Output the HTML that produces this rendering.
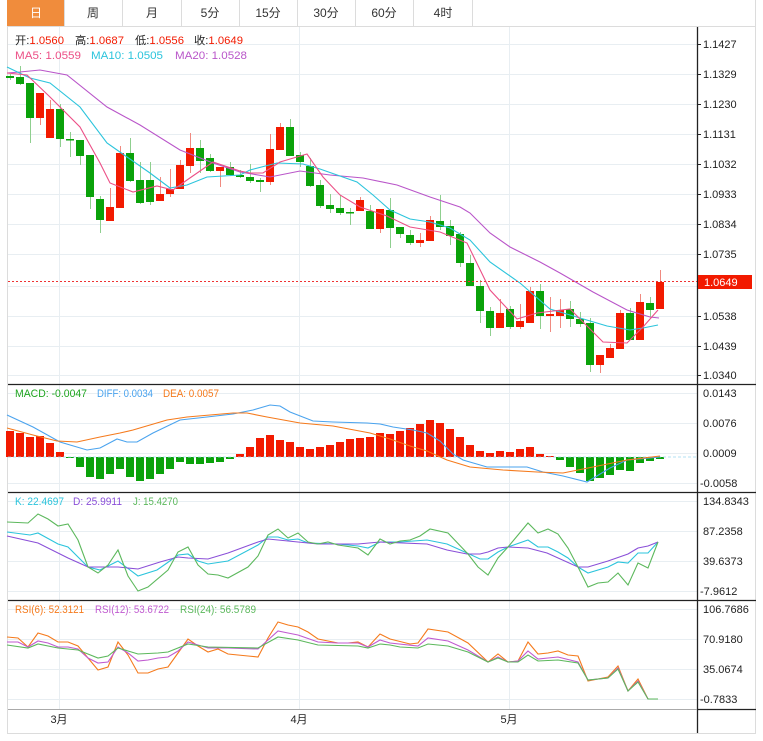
<!DOCTYPE html>
<html><head><meta charset="utf-8"><style>
html,body{margin:0;padding:0;background:#fff;width:763px;height:741px;overflow:hidden}
svg{display:block;font-family:"Liberation Sans","Noto Sans CJK SC",sans-serif}
g rect{width:8px}
</style></head><body>
<svg width="763" height="741" viewBox="0 0 763 741" xmlns="http://www.w3.org/2000/svg">
<rect x="7" y="0" width="57" height="26" fill="#f08c3c"/>
<g stroke="#dcdcdc" stroke-width="1" fill="none">
<line x1="64.5" y1="0" x2="64.5" y2="26"/><line x1="122.5" y1="0" x2="122.5" y2="26"/><line x1="181.5" y1="0" x2="181.5" y2="26"/><line x1="239.5" y1="0" x2="239.5" y2="26"/><line x1="297.5" y1="0" x2="297.5" y2="26"/><line x1="355.5" y1="0" x2="355.5" y2="26"/><line x1="413.5" y1="0" x2="413.5" y2="26"/><line x1="472.5" y1="0" x2="472.5" y2="26"/>
<line x1="7" y1="26.5" x2="756" y2="26.5"/>
<line x1="7.5" y1="26" x2="7.5" y2="734"/><line x1="755.5" y1="0" x2="755.5" y2="734"/><line x1="7" y1="733.5" x2="756" y2="733.5"/>
</g>
<g font-size="12" text-anchor="middle" fill="#333">
<text x="36" y="17" fill="#fff">日</text><text x="93" y="17">周</text><text x="152" y="17">月</text><text x="210" y="17">5分</text><text x="268" y="17">15分</text><text x="326" y="17">30分</text><text x="384" y="17">60分</text><text x="443" y="17">4时</text>
</g>
<g stroke="#e8eef2" stroke-width="1">
<line x1="8" y1="44.5" x2="697" y2="44.5"/><line x1="8" y1="74.5" x2="697" y2="74.5"/><line x1="8" y1="104.5" x2="697" y2="104.5"/><line x1="8" y1="134.5" x2="697" y2="134.5"/><line x1="8" y1="164.5" x2="697" y2="164.5"/><line x1="8" y1="194.5" x2="697" y2="194.5"/><line x1="8" y1="224.5" x2="697" y2="224.5"/><line x1="8" y1="254.5" x2="697" y2="254.5"/><line x1="8" y1="286.5" x2="697" y2="286.5"/><line x1="8" y1="316.5" x2="697" y2="316.5"/><line x1="8" y1="346.5" x2="697" y2="346.5"/><line x1="8" y1="375.5" x2="697" y2="375.5"/>
<line x1="8" y1="393.5" x2="697" y2="393.5"/><line x1="8" y1="423.5" x2="697" y2="423.5"/><line x1="8" y1="453.5" x2="697" y2="453.5"/><line x1="8" y1="483.5" x2="697" y2="483.5"/>
<line x1="8" y1="501.5" x2="697" y2="501.5"/><line x1="8" y1="531.5" x2="697" y2="531.5"/><line x1="8" y1="561.5" x2="697" y2="561.5"/><line x1="8" y1="591.5" x2="697" y2="591.5"/>
<line x1="8" y1="609.5" x2="697" y2="609.5"/><line x1="8" y1="639.5" x2="697" y2="639.5"/><line x1="8" y1="669.5" x2="697" y2="669.5"/><line x1="8" y1="699.5" x2="697" y2="699.5"/>
<line x1="59.5" y1="27" x2="59.5" y2="709"/><line x1="299.5" y1="27" x2="299.5" y2="709"/><line x1="509.5" y1="27" x2="509.5" y2="709"/>
</g>
<g stroke="#222" stroke-width="1.3">
<line x1="8" y1="384.5" x2="756" y2="384.5"/><line x1="8" y1="492.5" x2="756" y2="492.5"/><line x1="8" y1="600.5" x2="756" y2="600.5"/>
<line x1="697.5" y1="27" x2="697.5" y2="733"/><line x1="697" y1="709.5" x2="756" y2="709.5"/>
</g>
<line x1="8" y1="709.5" x2="697" y2="709.5" stroke="#aaa"/>
<g id="cd">
<g stroke="#8fcf8f"><line x1="10.5" y1="74" x2="10.5" y2="80"/><line x1="20.5" y1="66" x2="20.5" y2="85"/><line x1="30.5" y1="83" x2="30.5" y2="143"/><line x1="60.5" y1="104" x2="60.5" y2="147"/><line x1="70.5" y1="132" x2="70.5" y2="157"/><line x1="80.5" y1="140" x2="80.5" y2="165"/><line x1="90.5" y1="155" x2="90.5" y2="209"/><line x1="100.5" y1="196" x2="100.5" y2="233"/><line x1="130.5" y1="138" x2="130.5" y2="182"/><line x1="140.5" y1="162" x2="140.5" y2="204"/><line x1="150.5" y1="162" x2="150.5" y2="205"/><line x1="200.5" y1="140" x2="200.5" y2="173"/><line x1="210.5" y1="154" x2="210.5" y2="172"/><line x1="230.5" y1="162" x2="230.5" y2="176"/><line x1="240.5" y1="170" x2="240.5" y2="178"/><line x1="250.5" y1="164" x2="250.5" y2="183"/><line x1="260.5" y1="178" x2="260.5" y2="192"/><line x1="290.5" y1="119" x2="290.5" y2="156"/><line x1="300.5" y1="152" x2="300.5" y2="167"/><line x1="310.5" y1="158" x2="310.5" y2="187"/><line x1="320.5" y1="180" x2="320.5" y2="208"/><line x1="330.5" y1="194" x2="330.5" y2="213"/><line x1="340.5" y1="195" x2="340.5" y2="215"/><line x1="350.5" y1="208" x2="350.5" y2="225"/><line x1="370.5" y1="205" x2="370.5" y2="229"/><line x1="390.5" y1="198" x2="390.5" y2="248"/><line x1="400.5" y1="227" x2="400.5" y2="238"/><line x1="410.5" y1="230" x2="410.5" y2="245"/><line x1="440.5" y1="195" x2="440.5" y2="230"/><line x1="450.5" y1="220" x2="450.5" y2="245"/><line x1="460.5" y1="232" x2="460.5" y2="267"/><line x1="470.5" y1="255" x2="470.5" y2="286"/><line x1="480.5" y1="280" x2="480.5" y2="323"/><line x1="490.5" y1="307" x2="490.5" y2="336"/><line x1="510.5" y1="306" x2="510.5" y2="329"/><line x1="540.5" y1="284" x2="540.5" y2="329"/><line x1="570.5" y1="301" x2="570.5" y2="327"/><line x1="580.5" y1="312" x2="580.5" y2="327"/><line x1="590.5" y1="318" x2="590.5" y2="372"/><line x1="630.5" y1="308" x2="630.5" y2="340"/><line x1="650.5" y1="297" x2="650.5" y2="317"/></g>
<g stroke="#f08a80"><line x1="40.5" y1="93" x2="40.5" y2="125"/><line x1="50.5" y1="100" x2="50.5" y2="138"/><line x1="110.5" y1="188" x2="110.5" y2="221"/><line x1="120.5" y1="146" x2="120.5" y2="208"/><line x1="160.5" y1="177" x2="160.5" y2="201"/><line x1="170.5" y1="169" x2="170.5" y2="197"/><line x1="180.5" y1="160" x2="180.5" y2="189"/><line x1="190.5" y1="133" x2="190.5" y2="173"/><line x1="220.5" y1="167" x2="220.5" y2="187"/><line x1="270.5" y1="134" x2="270.5" y2="185"/><line x1="280.5" y1="123" x2="280.5" y2="150"/><line x1="360.5" y1="197" x2="360.5" y2="211"/><line x1="380.5" y1="209" x2="380.5" y2="233"/><line x1="420.5" y1="233" x2="420.5" y2="247"/><line x1="430.5" y1="216" x2="430.5" y2="241"/><line x1="500.5" y1="299" x2="500.5" y2="328"/><line x1="520.5" y1="304" x2="520.5" y2="329"/><line x1="530.5" y1="287" x2="530.5" y2="323"/><line x1="550.5" y1="297" x2="550.5" y2="332"/><line x1="560.5" y1="299" x2="560.5" y2="328"/><line x1="600.5" y1="355" x2="600.5" y2="373"/><line x1="610.5" y1="344" x2="610.5" y2="358"/><line x1="620.5" y1="310" x2="620.5" y2="349"/><line x1="640.5" y1="294" x2="640.5" y2="340"/><line x1="660.5" y1="270" x2="660.5" y2="309"/></g>
<g fill="#0aa20a"><rect x="6" y="76" width="8" height="2"/><rect x="16" y="77" width="8" height="7"/><rect x="26" y="83" width="8" height="35"/><rect x="56" y="109" width="8" height="30"/><rect x="66" y="139" width="8" height="1.5"/><rect x="76" y="140" width="8" height="16"/><rect x="86" y="155" width="8" height="42"/><rect x="96" y="199" width="8" height="21"/><rect x="126" y="153" width="8" height="28"/><rect x="136" y="180" width="8" height="23"/><rect x="146" y="180" width="8" height="22"/><rect x="196" y="148" width="8" height="13"/><rect x="206" y="158" width="8" height="13"/><rect x="226" y="167" width="8" height="8"/><rect x="236" y="175" width="8" height="2"/><rect x="246" y="177" width="8" height="4"/><rect x="256" y="180" width="8" height="2"/><rect x="286" y="127" width="8" height="29"/><rect x="296" y="155" width="8" height="7"/><rect x="306" y="166" width="8" height="20"/><rect x="316" y="185" width="8" height="21"/><rect x="326" y="205" width="8" height="4"/><rect x="336" y="208" width="8" height="5"/><rect x="346" y="212" width="8" height="1.5"/><rect x="366" y="211" width="8" height="18"/><rect x="386" y="210" width="8" height="18"/><rect x="396" y="227" width="8" height="7"/><rect x="406" y="235" width="8" height="8"/><rect x="436" y="221" width="8" height="6"/><rect x="446" y="226" width="8" height="10"/><rect x="456" y="234" width="8" height="29"/><rect x="466" y="263" width="8" height="23"/><rect x="476" y="286" width="8" height="25"/><rect x="486" y="311" width="8" height="17"/><rect x="506" y="309" width="8" height="18"/><rect x="536" y="291" width="8" height="25"/><rect x="566" y="309" width="8" height="10"/><rect x="576" y="319" width="8" height="5"/><rect x="586" y="323" width="8" height="42"/><rect x="626" y="313" width="8" height="27"/><rect x="646" y="303" width="8" height="7"/></g>
<g fill="#f21a00"><rect x="36" y="93" width="8" height="25"/><rect x="46" y="109" width="8" height="29"/><rect x="106" y="207" width="8" height="14"/><rect x="116" y="153" width="8" height="55"/><rect x="156" y="194" width="8" height="7"/><rect x="166" y="189" width="8" height="5"/><rect x="176" y="165" width="8" height="24"/><rect x="186" y="148" width="8" height="18"/><rect x="216" y="167" width="8" height="4"/><rect x="266" y="149" width="8" height="33"/><rect x="276" y="127" width="8" height="23"/><rect x="356" y="200" width="8" height="11"/><rect x="376" y="209" width="8" height="20"/><rect x="416" y="240" width="8" height="3"/><rect x="426" y="220" width="8" height="21"/><rect x="496" y="313" width="8" height="15"/><rect x="516" y="321" width="8" height="6"/><rect x="526" y="291" width="8" height="32"/><rect x="546" y="314" width="8" height="2"/><rect x="556" y="310" width="8" height="6"/><rect x="596" y="355" width="8" height="10"/><rect x="606" y="348" width="8" height="10"/><rect x="616" y="313" width="8" height="36"/><rect x="636" y="302" width="8" height="38"/><rect x="656" y="282" width="8" height="27"/></g>
</g>
<g fill="none" stroke-width="1.1">
<polyline stroke="#b955c9" points="7,73 20,72 40,70 67,75 107,107 140,125 180,150 213,163 240,172 270,177 300,171 330,175 363,178 397,185 430,197 460,207 470,213 490,233 510,247 540,262 560,273 593,292 627,310 650,317 659,318"/>
<polyline stroke="#2bc4dc" points="7,67 30,78 50,83 80,107 107,143 127,157 150,173 170,188 187,185 207,177 240,175 250,170 277,163 303,164 320,169 357,182 373,195 390,210 410,219 430,222 450,228 470,240 490,262 520,283 550,309 580,318 607,326 630,330 643,328 658,325"/>
<polyline stroke="#ec4f86" points="7,73 27,75 50,97 80,127 100,163 110,183 133,192 157,186 173,190 187,180 213,162 240,171 250,173 263,173 280,162 307,154 323,177 340,195 360,207 387,216 410,227 440,232 467,243 490,290 517,319 537,313 570,309 603,342 627,343 643,327 658,310"/>
</g>
<line x1="8" y1="281.5" x2="697" y2="281.5" stroke="#e33" stroke-dasharray="2,2"/>
<rect x="698" y="275" width="54" height="14" fill="#f21a00"/>
<text x="704" y="286" font-size="11" fill="#fff">1.0649</text>
<g fill="#f21a00"><rect x="6" y="431" width="8" height="26"/><rect x="16" y="433" width="8" height="24"/><rect x="26" y="437" width="8" height="20"/><rect x="36" y="436" width="8" height="21"/><rect x="46" y="443" width="8" height="14"/><rect x="56" y="452" width="8" height="5"/><rect x="236" y="454" width="8" height="3"/><rect x="246" y="447" width="8" height="10"/><rect x="256" y="438" width="8" height="19"/><rect x="266" y="435" width="8" height="22"/><rect x="276" y="440" width="8" height="17"/><rect x="286" y="442" width="8" height="15"/><rect x="296" y="447" width="8" height="10"/><rect x="306" y="449" width="8" height="8"/><rect x="316" y="447" width="8" height="10"/><rect x="326" y="445" width="8" height="12"/><rect x="336" y="442" width="8" height="15"/><rect x="346" y="439" width="8" height="18"/><rect x="356" y="438" width="8" height="19"/><rect x="366" y="437" width="8" height="20"/><rect x="376" y="433" width="8" height="24"/><rect x="386" y="434" width="8" height="23"/><rect x="396" y="431" width="8" height="26"/><rect x="406" y="428" width="8" height="29"/><rect x="416" y="424" width="8" height="33"/><rect x="426" y="420" width="8" height="37"/><rect x="436" y="423" width="8" height="34"/><rect x="446" y="429" width="8" height="28"/><rect x="456" y="437" width="8" height="20"/><rect x="466" y="445" width="8" height="12"/><rect x="476" y="451" width="8" height="6"/><rect x="486" y="453" width="8" height="4"/><rect x="496" y="451" width="8" height="6"/><rect x="506" y="452" width="8" height="5"/><rect x="516" y="449" width="8" height="8"/><rect x="526" y="447" width="8" height="10"/><rect x="536" y="454" width="8" height="3"/><rect x="546" y="456" width="8" height="1"/></g>
<g fill="#0aa20a"><rect x="66" y="457" width="8" height="1"/><rect x="76" y="457" width="8" height="10"/><rect x="86" y="457" width="8" height="20"/><rect x="96" y="457" width="8" height="22"/><rect x="106" y="457" width="8" height="17"/><rect x="116" y="457" width="8" height="12"/><rect x="126" y="457" width="8" height="20"/><rect x="136" y="457" width="8" height="24"/><rect x="146" y="457" width="8" height="22"/><rect x="156" y="457" width="8" height="17"/><rect x="166" y="457" width="8" height="12"/><rect x="176" y="457" width="8" height="5"/><rect x="186" y="457" width="8" height="7"/><rect x="196" y="457" width="8" height="7"/><rect x="206" y="457" width="8" height="6"/><rect x="216" y="457" width="8" height="5"/><rect x="226" y="457" width="8" height="2"/><rect x="556" y="457" width="8" height="3"/><rect x="566" y="457" width="8" height="10"/><rect x="576" y="457" width="8" height="16"/><rect x="586" y="457" width="8" height="24"/><rect x="596" y="457" width="8" height="21"/><rect x="606" y="457" width="8" height="18"/><rect x="616" y="457" width="8" height="13"/><rect x="626" y="457" width="8" height="14"/><rect x="636" y="457" width="8" height="6"/><rect x="646" y="457" width="8" height="4"/><rect x="656" y="457" width="8" height="2"/></g>
<line x1="8" y1="457" x2="697" y2="457" stroke="#9bd6f0" stroke-dasharray="3,2" stroke-width="0.8"/>
<g fill="none" stroke-width="1.1">
<polyline stroke="#4aa3ee" points="7,415 33,427 60,442 87,450 100,448 117,439 127,442 137,442 153,433 180,420 207,417 233,414 253,410 270,405 280,406 290,412 313,421 333,422 367,423 380,424 393,427 413,430 427,433 440,441 453,454 463,460 487,467 527,467 543,472 563,476 587,482 610,468 627,460 660,457"/>
<polyline stroke="#f57a1c" points="7,428 33,435 57,441 77,442 100,437 120,433 133,430 167,420 187,417 233,413 247,413 267,417 300,423 333,426 370,433 390,439 410,446 427,451 447,460 470,467 503,470 537,472 563,473 593,467 627,460 660,456"/>
<polyline stroke="#2bc4dc" points="7,532 30,535 38,533 58,544 68,547 88,567 100,570 118,561 138,576 157,570 167,563 178,555 188,554 198,561 208,564 228,561 258,545 268,537 278,537 288,540 298,539 308,543 338,544 358,546 368,548 380,542 400,542 427,540 447,544 467,553 480,559 488,559 498,552 508,547 528,540 538,547 548,547 558,552 568,558 578,567 588,573 608,567 618,562 628,563 638,553 648,553 658,542"/>
<polyline stroke="#8a4fd8" points="7,536 38,543 68,558 88,567 118,567 138,569 160,562 178,557 188,558 208,559 228,553 258,542 268,539 298,542 318,544 358,544 380,542 427,544 447,550 467,554 480,554 488,552 498,548 508,547 528,548 547,553 578,567 588,567 608,561 628,554 638,548 648,546 658,542"/>
<polyline stroke="#5cb85c" points="7,522 28,523 38,514 48,519 58,526 68,524 78,540 88,567 98,573 108,565 118,550 128,576 138,591 148,587 168,570 178,552 188,547 198,565 208,574 218,575 228,578 248,567 258,556 268,535 278,529 288,538 298,533 308,542 318,544 328,542 338,545 358,548 368,555 380,539 390,544 400,541 410,540 420,536 430,529 448,533 468,554 478,567 488,575 498,558 508,547 518,535 528,523 538,533 548,529 558,534 568,548 578,567 588,587 598,583 608,582 618,573 628,585 638,563 648,568 658,542"/>
<polyline stroke="#f57a1c" points="7,637 18,638 28,647 38,633 48,636 58,642 68,642 78,646 88,658 98,670 108,667 118,642 128,655 138,673 148,673 158,669 168,667 178,653 188,639 198,646 208,652 218,649 228,654 248,656 258,657 268,638 278,622 288,625 298,627 308,632 318,639 328,641 338,643 348,643 358,642 368,647 380,634 390,639 410,644 418,643 428,629 448,632 468,643 488,662 498,654 508,662 518,661 528,642 538,654 548,653 558,651 568,655 578,656 588,681 598,679 608,677 618,666 628,691 638,679 648,699 658,699"/>
<polyline stroke="#c05ad0" points="7,642 18,642 28,647 38,641 48,643 58,647 68,647 78,649 88,658 98,663 108,662 118,647 128,653 138,661 148,660 158,658 168,657 178,651 188,642 198,645 208,648 228,648 258,649 268,640 278,631 288,633 298,635 318,642 338,643 358,643 368,647 380,640 390,643 418,646 428,638 448,641 468,650 488,662 498,657 508,662 518,661 528,651 538,659 548,658 558,657 578,662 588,680 608,678 618,668 628,691 638,681 648,699 658,699"/>
<polyline stroke="#5cb85c" points="7,645 28,648 38,644 58,648 78,650 98,658 108,656 118,648 138,654 158,653 168,652 188,644 208,647 258,648 278,637 298,640 318,645 358,646 368,648 380,644 390,645 400,647 418,648 428,644 448,646 468,652 488,662 498,658 508,662 518,662 528,655 538,661 558,660 578,663 588,680 608,678 618,669 628,691 638,682 648,699 658,699"/>
</g>
<g font-size="11">
<text x="15" y="44" fill="#222" textLength="49" lengthAdjust="spacingAndGlyphs">开:<tspan fill="#f21a00">1.0560</tspan></text>
<text x="75" y="44" fill="#222" textLength="49" lengthAdjust="spacingAndGlyphs">高:<tspan fill="#f21a00">1.0687</tspan></text>
<text x="135" y="44" fill="#222" textLength="49" lengthAdjust="spacingAndGlyphs">低:<tspan fill="#f21a00">1.0556</tspan></text>
<text x="194" y="44" fill="#222" textLength="49" lengthAdjust="spacingAndGlyphs">收:<tspan fill="#f21a00">1.0649</tspan></text>
<text x="15" y="59" fill="#ec4f86" textLength="66" lengthAdjust="spacingAndGlyphs">MA5: 1.0559</text><text x="91" y="59" fill="#2bc4dc" textLength="72" lengthAdjust="spacingAndGlyphs">MA10: 1.0505</text><text x="175" y="59" fill="#b955c9" textLength="72" lengthAdjust="spacingAndGlyphs">MA20: 1.0528</text>
<text x="15" y="397" fill="#1fa51f" textLength="72" lengthAdjust="spacingAndGlyphs">MACD: -0.0047</text><text x="97" y="397" fill="#4aa3ee" textLength="56" lengthAdjust="spacingAndGlyphs">DIFF: 0.0034</text><text x="163" y="397" fill="#f57a1c" textLength="56" lengthAdjust="spacingAndGlyphs">DEA: 0.0057</text>
<text x="15" y="505" fill="#2bc4dc" textLength="49" lengthAdjust="spacingAndGlyphs">K: 22.4697</text><text x="73" y="505" fill="#8a4fd8" textLength="49" lengthAdjust="spacingAndGlyphs">D: 25.9911</text><text x="133" y="505" fill="#5cb85c" textLength="45" lengthAdjust="spacingAndGlyphs">J: 15.4270</text>
<text x="15" y="613" fill="#f57a1c" textLength="69" lengthAdjust="spacingAndGlyphs">RSI(6): 52.3121</text><text x="95" y="613" fill="#c05ad0" textLength="74" lengthAdjust="spacingAndGlyphs">RSI(12): 53.6722</text><text x="180" y="613" fill="#5cb85c" textLength="76" lengthAdjust="spacingAndGlyphs">RSI(24): 56.5789</text>
</g>
<g font-size="11" fill="#222">
<text x="703" y="48">1.1427</text><text x="703" y="78">1.1329</text><text x="703" y="108">1.1230</text><text x="703" y="138">1.1131</text><text x="703" y="168">1.1032</text><text x="703" y="198">1.0933</text><text x="703" y="228">1.0834</text><text x="703" y="258">1.0735</text><text x="703" y="320">1.0538</text><text x="703" y="350">1.0439</text><text x="703" y="379">1.0340</text>
<text x="703" y="397">0.0143</text><text x="703" y="427">0.0076</text><text x="703" y="457">0.0009</text><text x="700" y="487">-0.0058</text>
<text x="703" y="505">134.8343</text><text x="703" y="535">87.2358</text><text x="703" y="565">39.6373</text><text x="700" y="595">-7.9612</text>
<text x="703" y="613">106.7686</text><text x="703" y="643">70.9180</text><text x="703" y="673">35.0674</text><text x="700" y="703">-0.7833</text>
<text x="59" y="723" text-anchor="middle">3月</text><text x="299" y="723" text-anchor="middle">4月</text><text x="509" y="723" text-anchor="middle">5月</text>
</g>
<g stroke="#222"><line x1="697" y1="44.5" x2="701" y2="44.5"/><line x1="697" y1="74.5" x2="701" y2="74.5"/><line x1="697" y1="104.5" x2="701" y2="104.5"/><line x1="697" y1="134.5" x2="701" y2="134.5"/><line x1="697" y1="164.5" x2="701" y2="164.5"/><line x1="697" y1="194.5" x2="701" y2="194.5"/><line x1="697" y1="224.5" x2="701" y2="224.5"/><line x1="697" y1="254.5" x2="701" y2="254.5"/><line x1="697" y1="316.5" x2="701" y2="316.5"/><line x1="697" y1="346.5" x2="701" y2="346.5"/><line x1="697" y1="375.5" x2="701" y2="375.5"/></g>
</svg>
</body></html>
